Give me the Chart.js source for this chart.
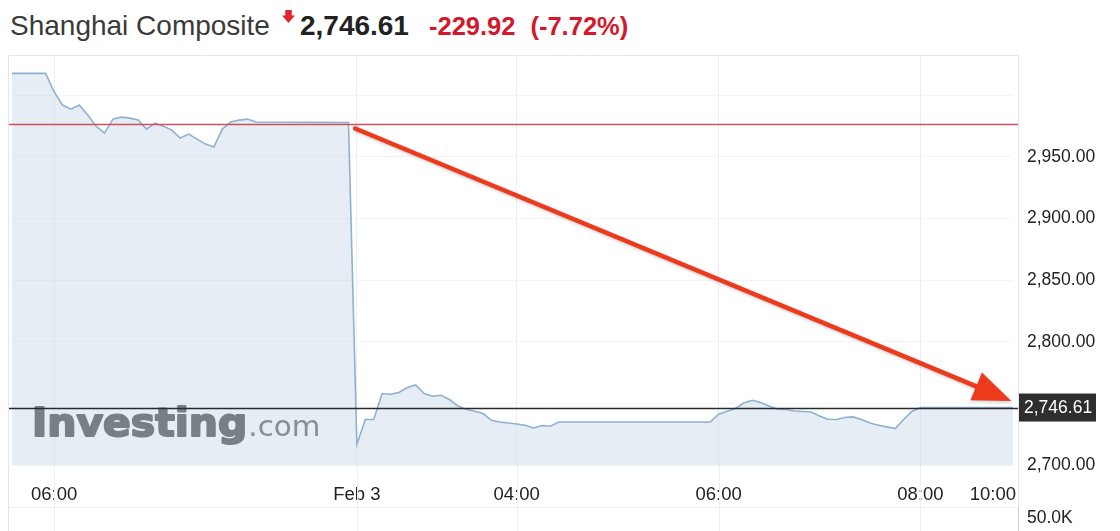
<!DOCTYPE html>
<html>
<head>
<meta charset="utf-8">
<script src="https://cdn.jsdelivr.net/npm/chart.js@4.4.1/dist/chart.umd.min.js"></script>
<style>
  html, body { margin: 0; padding: 0; background: #fff; }
  body { width: 1120px; height: 531px; position: relative; overflow: hidden; font-family: "Liberation Sans", Arial, sans-serif; }
  #title { position: absolute; left: 10px; top: 8px; white-space: nowrap; line-height: 36px; }
  #title .name { font-size: 28px; color: #3a3a3a; }
  #title .icon { display: inline-block; width: 13px; height: 14px; margin-left: 12px; vertical-align: 11px; }
  #title .last { font-size: 28px; font-weight: bold; color: #222; margin-left: 5px; }
  #title .chg { font-size: 25.5px; font-weight: bold; color: #d3182b; margin-left: 20px; }
  #title .pct { font-size: 25.5px; font-weight: bold; color: #d3182b; margin-left: 15px; }
  canvas { position: absolute; left: 0; top: 0; }
</style>
</head>
<body>
<div id="title"><span class="name">Shanghai Composite</span><svg class="icon" viewBox="0 0 12 13"><polygon points="3,0 9,0 9,5 12,5 6,12 0,5 3,5" fill="#e0252f"/></svg><span class="last">2,746.61</span><span class="chg">-229.92</span><span class="pct">(-7.72%)</span></div>
<canvas id="chart" width="1120" height="531"></canvas>
<script>
// ------------------------------------
// Data (x = minutes along the chart's compressed session time)
// ------------------------------------
const times = [
    0, 20, 25, 30, 35, 40, 45, 50, 55, 60, 65, 70, 75, 80, 85, 90, 95, 100, 105, 110,
    115, 120, 125, 130, 135, 140, 145, 200,
    205, 210, 215, 220, 225, 230, 235, 240, 245, 250, 255, 260, 265, 270, 275, 280,
    285, 290, 295, 300, 305, 310, 315, 320, 325, 415,
    420, 425, 430, 435, 440, 445, 450, 455, 460, 465, 470, 475, 480, 485, 490, 495,
    500, 505, 510, 515, 520, 525, 530, 535, 540, 595
];
const prices = [
    3017.7, 3017.7, 3002.8, 2992.0, 2988.7, 2992.0, 2983.9, 2974.9, 2969.2, 2980.6,
    2982.2, 2981.4, 2979.8, 2972.5, 2977.4, 2974.9, 2971.7, 2965.2, 2968.4, 2964.4,
    2960.3, 2957.9, 2972.5, 2978.2, 2979.8, 2980.6, 2978.2, 2977.8,
    2716.8, 2736.9, 2736.9, 2758.0, 2757.4, 2758.8, 2762.8, 2764.9, 2758.0, 2755.8,
    2756.6, 2753.1, 2747.9, 2745.2, 2743.6, 2741.7, 2736.3, 2734.9, 2734.1, 2733.3,
    2732.2, 2730.0, 2732.0, 2731.4, 2734.9, 2734.9,
    2741.2, 2743.6, 2745.8, 2750.3, 2752.5, 2750.7, 2747.9, 2745.2, 2745.0, 2743.8,
    2743.4, 2743.0, 2739.8, 2737.1, 2736.9, 2738.5, 2739.0, 2736.9, 2734.1, 2732.2,
    2730.9, 2729.6, 2736.9, 2743.6, 2746.61, 2746.61
];

const xTickValues = [25, 205, 300, 420, 540, 583];
const xTickLabels = ['06:00', 'Feb 3', '04:00', '06:00', '08:00', '10:00'];
const yTickValues = [2700, 2750, 2800, 2850, 2900, 2950, 3000];
const yTickShown = [2700, 2800, 2850, 2900, 2950];

const prevClose = 2976.53;
const lastPrice = 2746.61;
const volumeLabel = '50.0K';

// red annotation arrow, in data units
const arrowFrom = { x: 204, y: 2973 };
const arrowTo = { x: 594, y: 2752 };

// ------------------------------------
// Drawing helpers
// ------------------------------------
const FRAME_LEFT = 8;
const FRAME_RIGHT = 1018;

const decorPlugin = {
    id: 'decor',
    afterDatasetsDraw(chart) {
        const { ctx, chartArea, scales } = chart;
        const xs = scales.x, ys = scales.y;

        // watermark (heavy, slightly widened)
        ctx.save();
        ctx.textBaseline = 'alphabetic';
        ctx.translate(32, 436);
        ctx.scale(1.05, 1);
        ctx.fillStyle = '#787f86';
        ctx.strokeStyle = '#787f86';
        ctx.lineWidth = 2;
        ctx.lineJoin = 'round';
        ctx.font = 'bold 39px "DejaVu Sans"';
        ctx.fillText('Investing', 0, 0);
        ctx.strokeText('Investing', 0, 0);
        const w = ctx.measureText('Investing').width;
        ctx.fillStyle = '#878d94';
        ctx.font = '28px "DejaVu Sans"';
        ctx.fillText('.com', w + 1, 0);
        ctx.restore();

        // previous close and last price lines
        const drawH = (v, color, width) => {
            const y = Math.round(ys.getPixelForValue(v)) + 0.5;
            ctx.save();
            ctx.strokeStyle = color;
            ctx.lineWidth = width;
            ctx.beginPath();
            ctx.moveTo(FRAME_LEFT, y);
            ctx.lineTo(FRAME_RIGHT, y);
            ctx.stroke();
            ctx.restore();
        };
        drawH(prevClose, '#c9525c', 1.5);
        drawH(lastPrice, '#2a2a2a', 1.6);

        // arrow
        const x0 = xs.getPixelForValue(arrowFrom.x), y0 = ys.getPixelForValue(arrowFrom.y);
        const x1 = xs.getPixelForValue(arrowTo.x), y1 = ys.getPixelForValue(arrowTo.y);
        const ang = Math.atan2(y1 - y0, x1 - x0);
        const headLen = 38, headHalf = 15;
        const bx = x1 - headLen * Math.cos(ang), by = y1 - headLen * Math.sin(ang);
        ctx.save();
        ctx.shadowColor = 'rgba(0,0,0,0.25)';
        ctx.shadowBlur = 3;
        ctx.shadowOffsetY = 1;
        ctx.strokeStyle = '#ee3a1c';
        ctx.fillStyle = '#ee3a1c';
        ctx.lineWidth = 4.5;
        ctx.lineCap = 'round';
        ctx.beginPath();
        ctx.moveTo(x0, y0);
        ctx.lineTo(bx + 4 * Math.cos(ang), by + 4 * Math.sin(ang));
        ctx.stroke();
        ctx.beginPath();
        ctx.moveTo(x1, y1);
        ctx.lineTo(bx + headHalf * Math.sin(ang), by - headHalf * Math.cos(ang));
        ctx.lineTo(bx - headHalf * Math.sin(ang), by + headHalf * Math.cos(ang));
        ctx.closePath();
        ctx.fill();
        ctx.restore();
    },
    afterDraw(chart) {
        const { ctx, chartArea, scales } = chart;
        const xs = scales.x, ys = scales.y;
        const H = chart.height;

        ctx.save();
        // vertical grid continuing through the label strip and volume panel
        ctx.strokeStyle = '#eeeff1';
        ctx.lineWidth = 1;
        xs.ticks.forEach((t, i) => {
            if (i === xs.ticks.length - 1) return;
            const x = Math.round(xs.getPixelForValue(t.value)) + 0.5;
            ctx.beginPath();
            ctx.moveTo(x, chartArea.bottom);
            ctx.lineTo(x, H);
            ctx.stroke();
        });
        // volume panel top line
        ctx.beginPath();
        ctx.moveTo(FRAME_LEFT, 507.5);
        ctx.lineTo(FRAME_RIGHT, 507.5);
        ctx.stroke();

        // frame
        ctx.strokeStyle = '#e6e6e6';
        ctx.beginPath();
        ctx.moveTo(FRAME_LEFT + 0.5, H);
        ctx.lineTo(FRAME_LEFT + 0.5, chartArea.top + 0.5);
        ctx.lineTo(FRAME_RIGHT + 0.5, chartArea.top + 0.5);
        ctx.lineTo(FRAME_RIGHT + 0.5, H);
        ctx.stroke();
        ctx.strokeStyle = '#cfcfcf';
        ctx.beginPath();
        ctx.moveTo(FRAME_RIGHT + 0.5, 507);
        ctx.lineTo(FRAME_RIGHT + 0.5, H);
        ctx.stroke();

        // last price badge
        const yb = ys.getPixelForValue(lastPrice);
        ctx.fillStyle = '#2e2e2e';
        ctx.fillRect(FRAME_RIGHT + 1, yb - 14, 77, 28);
        ctx.fillStyle = '#ffffff';
        ctx.font = '17.5px "Liberation Sans", Arial, sans-serif';
        ctx.textBaseline = 'middle';
        ctx.textAlign = 'left';
        ctx.fillText(lastPrice.toLocaleString('en-US', { minimumFractionDigits: 2 }), 1024, yb + 1);

        // volume axis label
        ctx.fillStyle = '#222';
        ctx.fillText(volumeLabel, 1027, 518);
        ctx.restore();
    }
};

// ------------------------------------
// Chart
// ------------------------------------
function initChart() {
    const ctx = document.getElementById('chart').getContext('2d');
    new Chart(ctx, {
        type: 'line',
        data: {
            datasets: [{
                data: times.map((t, i) => ({ x: t, y: prices[i] })),
                borderColor: '#8fb1d1',
                borderWidth: 1.6,
                backgroundColor: 'rgba(205, 220, 234, 0.5)',
                fill: 'start',
                pointRadius: 0,
                tension: 0
            }]
        },
        options: {
            responsive: false,
            animation: false,
            layout: { padding: { left: 12, top: 55, right: 0, bottom: 0 } },
            plugins: {
                legend: { display: false },
                tooltip: { enabled: false }
            },
            scales: {
                x: {
                    type: 'linear',
                    min: 0,
                    max: 595,
                    afterBuildTicks: s => { s.ticks = xTickValues.map(v => ({ value: v })); },
                    afterFit: s => { s.height = 66; },
                    border: { display: false },
                    grid: {
                        drawTicks: false,
                        color: c => (c.index === xTickValues.length - 1 ? 'rgba(0,0,0,0)' : '#eceef0')
                    },
                    ticks: {
                        autoSkip: false,
                        maxRotation: 0,
                        padding: 19,
                        color: '#222',
                        font: { family: '"Liberation Sans", Arial, sans-serif', size: 18.5 },
                        callback: (v, i) => xTickLabels[i]
                    }
                },
                y: {
                    position: 'right',
                    min: 2700,
                    max: 3032.6,
                    afterBuildTicks: s => { s.ticks = yTickValues.map(v => ({ value: v })); },
                    afterFit: s => { s.width = 107; },
                    border: { display: false },
                    grid: { drawTicks: false, color: '#f3f4f5' },
                    ticks: {
                        padding: 14,
                        color: '#222',
                        font: { family: '"Liberation Sans", Arial, sans-serif', size: 17.5 },
                        callback: v => (yTickShown.includes(v)
                            ? v.toLocaleString('en-US', { minimumFractionDigits: 2, maximumFractionDigits: 2 })
                            : '')
                    }
                }
            }
        },
        plugins: [decorPlugin]
    });
}

window.onload = function() {
    initChart();
};
</script>
</body>
</html>
